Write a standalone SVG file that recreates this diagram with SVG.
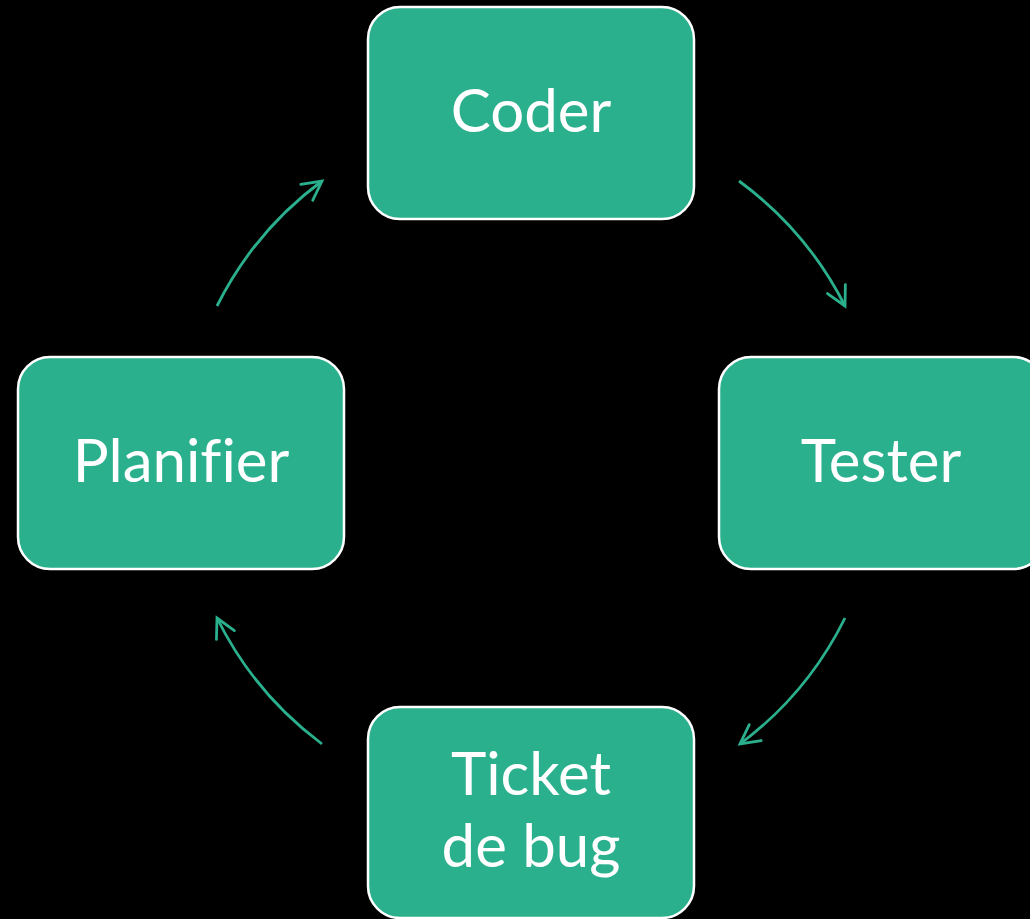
<svg xmlns="http://www.w3.org/2000/svg" width="1030" height="919" viewBox="0 0 1030 919">
<defs>
<style>
.box{fill:#2bb08e;stroke:#ffffff;stroke-width:2.5}
.lbl{fill:#ffffff;font-family:Lato,"Open Sans","Liberation Sans",sans-serif;font-size:60px;text-anchor:middle;font-variant-ligatures:none;font-feature-settings:"liga" 0}
.arc{fill:none;stroke:#2bb08e;stroke-width:2.8;marker-end:url(#ah)}
</style>
<marker id="ah" markerUnits="userSpaceOnUse" markerWidth="30" markerHeight="30" viewBox="-24 -15 30 30" refX="0" refY="0" orient="auto" overflow="visible">
<path d="M -19 -10 L 0 0 L -19 10" fill="none" stroke="#2bb08e" stroke-width="2.8" stroke-linecap="round" stroke-linejoin="miter"/>
</marker>
</defs>
<rect width="1030" height="919" fill="#000000"/>
<g id="connectors">
<path class="arc" d="M 739 181 A 351 351 0 0 1 845 306"/>
<path class="arc" d="M 845 618 A 351 351 0 0 1 740 744"/>
<path class="arc" d="M 322 744 A 351 351 0 0 1 217 618"/>
<path class="arc" d="M 217 306 A 351 351 0 0 1 322 181"/>
</g>
<g id="coder">
<rect class="box" x="368" y="7" width="326" height="212" rx="32"/>
<text class="lbl" x="531" y="132">Coder</text>
</g>
<g id="tester">
<rect class="box" x="719" y="357" width="326" height="212" rx="32"/>
<text class="lbl" x="881" y="482">Tester</text>
</g>
<g id="ticket">
<rect class="box" x="368" y="707" width="326" height="211" rx="32"/>
<text class="lbl" x="531" y="795">Ticket</text>
<text class="lbl" x="531" y="867">de bug</text>
</g>
<g id="planifier">
<rect class="box" x="18" y="357" width="326" height="212" rx="32"/>
<text class="lbl" x="181" y="482">Planifier</text>
</g>
</svg>
